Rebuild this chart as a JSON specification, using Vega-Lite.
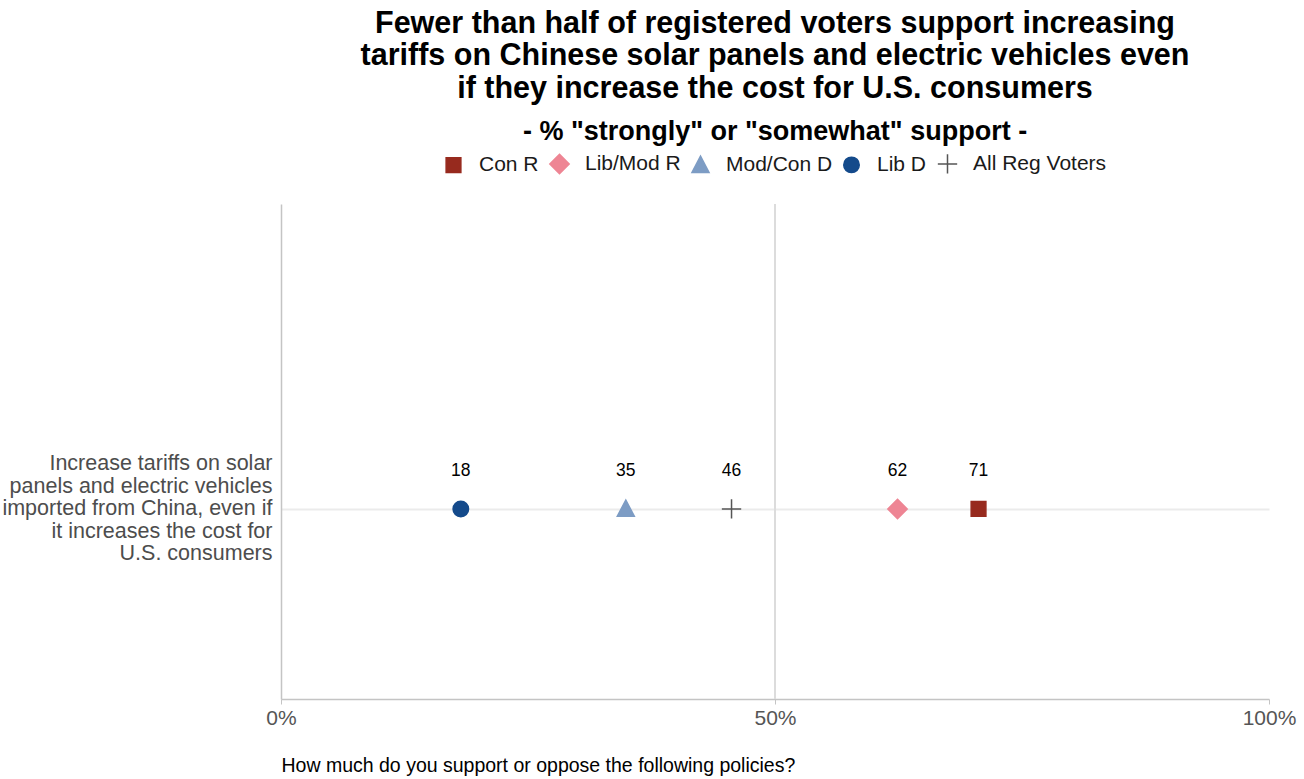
{
  "$schema": "https://vega.github.io/schema/vega-lite/v6.json",
  "autosize": "none",
  "padding": {"left": 281, "top": 204, "right": 35, "bottom": 80},
  "width": 988,
  "height": 495,
  "background": "white",
  "title": {
    "text": ["Fewer than half of registered voters support increasing", "tariffs on Chinese solar panels and electric vehicles even", "if they increase the cost for U.S. consumers"],
    "subtitle": "- % \"strongly\" or \"somewhat\" support -",
    "font": "Liberation Sans",
    "fontSize": 30.5,
    "fontWeight": "bold",
    "lineHeight": 32.5,
    "color": "#000000",
    "subtitleFont": "Liberation Sans",
    "subtitleFontSize": 27,
    "subtitleFontWeight": "bold",
    "subtitleColor": "#000000",
    "subtitlePadding": 15,
    "anchor": "middle",
    "offset": 8
  },
  "data": {
    "values": [
      {"policy": "Increase tariffs on solar|panels and electric vehicles|imported from China, even if|it increases the cost for|U.S. consumers", "group": "Con R", "value": 70.6},
      {"policy": "Increase tariffs on solar|panels and electric vehicles|imported from China, even if|it increases the cost for|U.S. consumers", "group": "Lib/Mod R", "value": 62.4},
      {"policy": "Increase tariffs on solar|panels and electric vehicles|imported from China, even if|it increases the cost for|U.S. consumers", "group": "Mod/Con D", "value": 34.9},
      {"policy": "Increase tariffs on solar|panels and electric vehicles|imported from China, even if|it increases the cost for|U.S. consumers", "group": "Lib D", "value": 18.2},
      {"policy": "Increase tariffs on solar|panels and electric vehicles|imported from China, even if|it increases the cost for|U.S. consumers", "group": "All Reg Voters", "value": 45.6}
    ]
  },
  "layer": [
    {
      "mark": {"type": "rule", "color": "#dcdcdc", "strokeWidth": 1.2},
      "encoding": {"x": {"datum": 50, "type": "quantitative"}}
    },
    {
      "mark": {"type": "point", "filled": true, "size": 240, "strokeWidth": 1.5, "opacity": 1},
      "encoding": {
        "x": {
          "field": "value", "type": "quantitative",
          "scale": {"domain": [0, 100], "nice": false},
          "axis": {
            "values": [0, 50, 100],
            "labelExpr": "datum.value + '%'",
            "labelFlush": false,
            "grid": false,
            "domainColor": "#c4c4c4",
            "domainWidth": 1.5,
            "tickColor": "#c4c4c4",
            "tickSize": 5,
            "labelFont": "Liberation Sans",
            "labelFontSize": 21,
            "labelColor": "#555555",
            "labelPadding": 3,
            "title": "How much do you support or oppose the following policies?",
            "titleFont": "Liberation Sans",
            "titleFontSize": 19.5,
            "titleFontWeight": "normal",
            "titleColor": "#000000",
            "titleAnchor": "start",
            "titleAlign": "left",
            "titlePadding": 28
          }
        },
        "y": {
          "field": "policy", "type": "nominal",
          "scale": {"type": "point", "align": 0.616},
          "axis": {
            "title": null,
            "labelExpr": "split(datum.label, '|')",
            "labelFont": "Liberation Sans",
            "labelFontSize": 21.5,
            "labelLineHeight": 22.5,
            "labelBaseline": "middle",
            "labelOffset": -45,
            "labelColor": "#4d4d4d",
            "labelPadding": 9,
            "labelLimit": 400,
            "ticks": false,
            "domainColor": "#c4c4c4",
            "domainWidth": 1.5,
            "grid": true,
            "gridColor": "#ebebeb",
            "gridWidth": 2
          }
        },
        "color": {
          "field": "group", "type": "nominal",
          "scale": {
            "domain": ["Con R", "Lib/Mod R", "Mod/Con D", "Lib D", "All Reg Voters"],
            "range": ["#972a1e", "#ee8594", "#7d9cc4", "#144a8b", "#555555"]
          },
          "legend": {
            "title": null,
            "orient": "top",
            "direction": "horizontal",
            "offset": 27,
            "labelFont": "Liberation Sans",
            "labelFontSize": 21,
            "labelColor": "#1a1a1a",
            "symbolSize": 240,
            "symbolStrokeWidth": 1.5,
            "labelOffset": 15,
            "columnPadding": 7
          }
        },
        "stroke": {
          "field": "group", "type": "nominal",
          "scale": {
            "domain": ["Con R", "Lib/Mod R", "Mod/Con D", "Lib D", "All Reg Voters"],
            "range": ["#972a1e", "#ee8594", "#7d9cc4", "#144a8b", "#555555"]
          },
          "legend": {
            "title": null,
            "orient": "top",
            "direction": "horizontal",
            "offset": 27,
            "labelFont": "Liberation Sans",
            "labelFontSize": 21,
            "labelColor": "#1a1a1a",
            "symbolSize": 240,
            "symbolStrokeWidth": 1.5,
            "labelOffset": 15,
            "columnPadding": 7
          }
        },
        "shape": {
          "field": "group", "type": "nominal",
          "scale": {
            "domain": ["Con R", "Lib/Mod R", "Mod/Con D", "Lib D", "All Reg Voters"],
            "range": ["M-0.95,-0.95H0.95V0.95H-0.95Z", "M0,-1.25L1.25,0L0,1.25L-1.25,0Z", "M0,-1.15L1.1,0.95L-1.1,0.95Z", "circle", "M-1.25,0H1.25M0,-1.25V1.25"]
          },
          "legend": {
            "title": null,
            "orient": "top",
            "direction": "horizontal",
            "offset": 27,
            "labelFont": "Liberation Sans",
            "labelFontSize": 21,
            "labelColor": "#1a1a1a",
            "symbolSize": 240,
            "symbolStrokeWidth": 1.5,
            "labelOffset": 15,
            "columnPadding": 7
          }
        }
      }
    },
    {
      "mark": {"type": "text", "dy": -38, "font": "Liberation Sans", "fontSize": 17.5, "color": "#000000"},
      "encoding": {
        "x": {"field": "value", "type": "quantitative"},
        "y": {"field": "policy", "type": "nominal"},
        "text": {"field": "value", "type": "quantitative", "format": ".0f"}
      }
    }
  ],
  "config": {
    "view": {"stroke": null},
    "legend": {"layout": {"top": {"anchor": "middle"}}}
  }
}
